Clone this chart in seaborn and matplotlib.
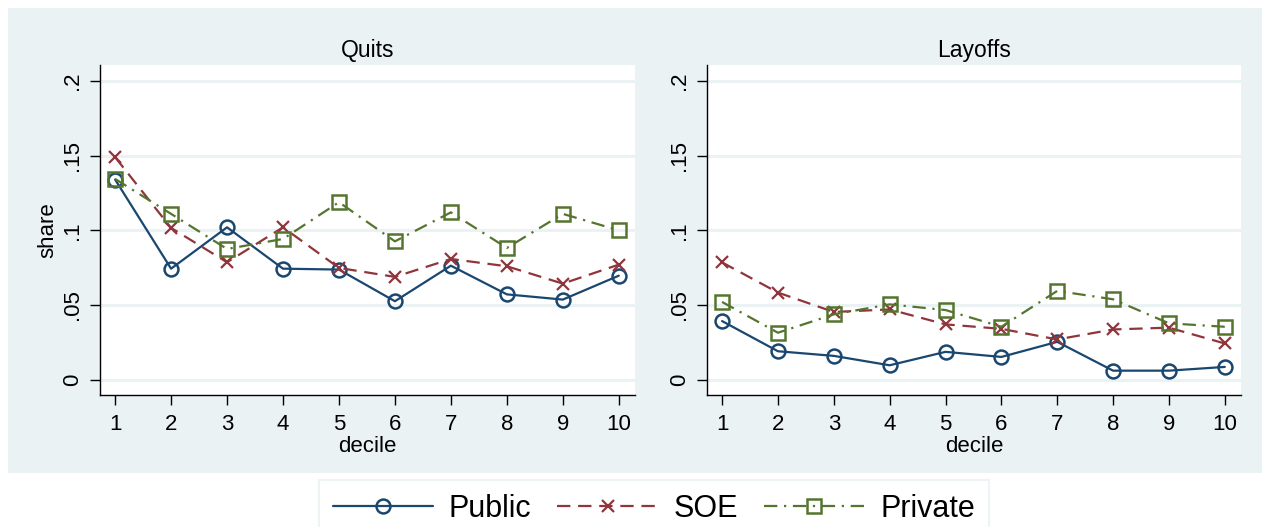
import matplotlib
matplotlib.use("Agg")
import matplotlib.pyplot as plt
from matplotlib.patches import Rectangle
import seaborn as sns
import pandas as pd
import numpy as np

deciles = [1, 2, 3, 4, 5, 6, 7, 8, 9, 10]
panels = ["Quits", "Layoffs"]
series = ["Public", "SOE", "Private"]

quits_public = [0.134, 0.0743, 0.102, 0.0743, 0.0737, 0.0525, 0.0763, 0.0571, 0.0536, 0.0696]
quits_soe = [0.149, 0.1016, 0.0786, 0.102, 0.0748, 0.0688, 0.0808, 0.0759, 0.0643, 0.077]
quits_private = [0.1344, 0.111, 0.0875, 0.0942, 0.1188, 0.0926, 0.112, 0.0882, 0.111, 0.100]

layoffs_public = [0.0392, 0.019, 0.0159, 0.0096, 0.0186, 0.0152, 0.0253, 0.006, 0.006, 0.0085]
layoffs_soe = [0.0785, 0.0583, 0.0453, 0.047, 0.037, 0.034, 0.0269, 0.0336, 0.0348, 0.0242]
layoffs_private = [0.052, 0.0314, 0.0437, 0.0504, 0.0466, 0.0354, 0.0594, 0.0538, 0.0377, 0.0354]

yticks = [0, 0.05, 0.1, 0.15, 0.2]
ytick_labels = ["0", ".05", ".1", ".15", ".2"]

rows = []
for panel, vals in [("Quits", [quits_public, quits_soe, quits_private]),
                    ("Layoffs", [layoffs_public, layoffs_soe, layoffs_private])]:
    for s, v in zip(series, vals):
        for d, y in zip(deciles, v):
            rows.append({"panel": panel, "series": s, "decile": d, "share": y})
df = pd.DataFrame(rows)

sns.set_theme(style="white")
plt.rcParams["font.family"] = ["Liberation Sans", "DejaVu Sans"]
plt.rcParams["text.color"] = "black"
plt.rcParams["axes.labelcolor"] = "black"
plt.rcParams["xtick.color"] = "black"
plt.rcParams["ytick.color"] = "black"

BG = "#EAF2F3"
styles = {
    "Public": dict(color="#1a476f", marker="o", ls="-", mfc="none", mew=1.8, ms=10),
    "SOE": dict(color="#90353b", marker="x", ls=(0, (6, 3.5)), mfc="none", mew=1.6, ms=8.5),
    "Private": dict(color="#55752f", marker="s", ls=(0, (6, 3, 1, 3)), mfc="none", mew=1.8, ms=9.5),
}

fig = plt.figure(figsize=(12.62, 5.27), dpi=100)
fig.patch.set_facecolor("white")
fig.patches.append(Rectangle((8 / 1262, 1 - 473 / 527), 1 - 8 / 1262, (473 - 8) / 527,
                             transform=fig.transFigure, facecolor=BG, edgecolor="none", zorder=-10))

W, H = 1262, 527
boxes = [(100, 635), (707, 1241)]
top, bottom = 65, 395
axes = []
for (l, r), panel in zip(boxes, panels):
    ax = fig.add_axes([l / W, 1 - bottom / H, (r - l) / W, (bottom - top) / H])
    ax.set_zorder(1)
    ax.set_facecolor("white")
    for s in series:
        st = styles[s]
        sub = df[(df.panel == panel) & (df.series == s)]
        sns.lineplot(data=sub, x="decile", y="share", ax=ax, color=st["color"],
                     linewidth=1.6, label=s)
        line = ax.lines[-1]
        line.set_linestyle(st["ls"])
        line.set_marker(st["marker"])
        line.set_markerfacecolor(st["mfc"])
        line.set_markeredgecolor(st["color"])
        line.set_markeredgewidth(st["mew"])
        line.set_markersize(st["ms"])
    ax.set_xlim(0.73, 10.29)
    ax.set_ylim(-0.0103, 0.2107)
    ax.set_xticks(deciles)
    ax.set_xticklabels([str(d) for d in deciles], fontsize=16)
    ax.set_yticks(yticks)
    ax.set_yticklabels(ytick_labels, fontsize=16, rotation=90, va="center")
    for y in yticks:
        ax.axhline(y, color=BG, lw=2.2, zorder=0)
    for sp in ["top", "right"]:
        ax.spines[sp].set_visible(False)
    for sp in ["left", "bottom"]:
        ax.spines[sp].set_color("black")
        ax.spines[sp].set_linewidth(1.0)
    ax.tick_params(axis="x", direction="out", length=7.5, width=1.0, color="black",
                   bottom=True, pad=6)
    ax.tick_params(axis="y", direction="out", length=7, width=1.0, color="black",
                   left=True, pad=5)
    ax.set_xlabel("decile", fontsize=16, labelpad=1)
    ax.set_ylabel("share" if panel == "Quits" else "", fontsize=16, labelpad=3)
    ax.set_title(panel, fontsize=16.5, pad=6)
    if ax.get_legend() is not None:
        ax.get_legend().remove()
    axes.append(ax)

handles, labels = axes[0].get_legend_handles_labels()
leg = fig.legend(handles, labels, loc="center", bbox_to_anchor=(0.518, 0.035), ncol=3,
                 fontsize=22, frameon=True, fancybox=False, handlelength=3.3,
                 handletextpad=0.5, columnspacing=0.85, borderpad=0.45, numpoints=1)
leg.get_frame().set_edgecolor(BG)
leg.get_frame().set_linewidth(1.5)
leg.get_frame().set_facecolor("white")

fig.savefig("out.png", dpi=100, facecolor="white")
